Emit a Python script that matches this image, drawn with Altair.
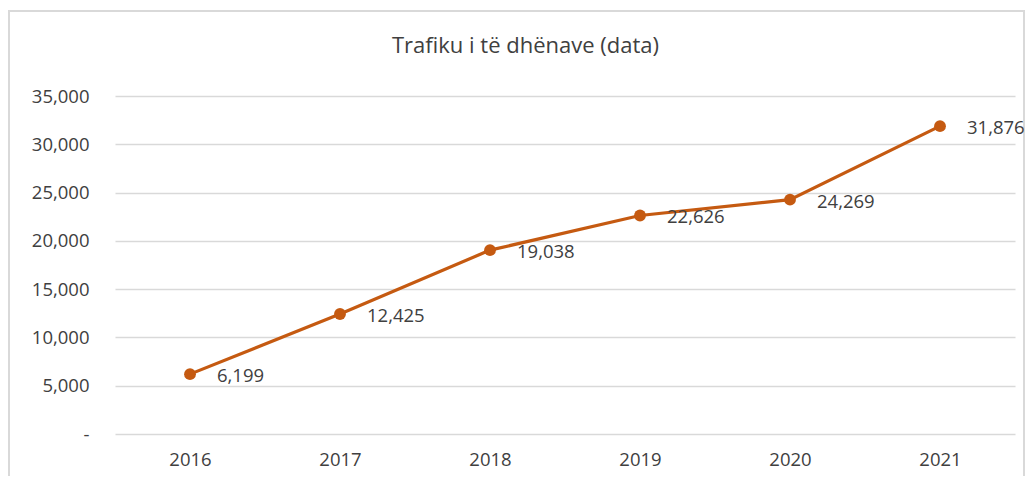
import altair as alt
import pandas as pd

years = ["2016", "2017", "2018", "2019", "2020", "2021"]
values = [6199, 12425, 19038, 22626, 24269, 31876]
y_ticks = [0, 5000, 10000, 15000, 20000, 25000, 30000, 35000]

df = pd.DataFrame({"year": years, "value": values})

color = "#C55A11"
font = "Open Sans"
fs = 18.5

base = alt.Chart(df).encode(
    x=alt.X("year:N", sort=years, title=None,
            scale=alt.Scale(paddingInner=0, paddingOuter=0),
            axis=alt.Axis(labelAngle=0, ticks=False, domain=False, grid=False,
                          labelFontSize=fs, labelColor="#404040", labelPadding=16,
                          labelFont=font)),
    y=alt.Y("value:Q", title=None,
            scale=alt.Scale(domain=[0, 35000], nice=False),
            axis=alt.Axis(values=y_ticks, ticks=False, domain=False,
                          gridColor="#d9d9d9", gridWidth=1.3,
                          labelFontSize=fs, labelColor="#404040", labelPadding=26,
                          labelFont=font,
                          labelExpr="datum.value == 0 ? '-' : format(datum.value, ',')")),
)

frame = alt.Chart(df).mark_rect(fill=None, stroke="#d9d9d9", strokeWidth=1.5).encode(
    x=alt.value(-106), x2=alt.value(909), y=alt.value(-85), y2=alt.value(400)
)

line = base.mark_line(color=color, strokeWidth=3.2)
points = base.mark_circle(color=color, size=140, opacity=1)
labels = base.mark_text(align="left", baseline="middle", dx=27, dy=2,
                        fontSize=fs, font=font, color="#404040").encode(
    text=alt.Text("value:Q", format=",")
)

chart = alt.layer(frame, line, points, labels).properties(
    width=900, height=338,
    title=alt.TitleParams("Trafiku i të dhënave (data)", fontSize=22, font=font,
                          fontWeight="normal", color="#404040", anchor="middle",
                          frame="bounds", dx=9, dy=70, offset=0, baseline="bottom"),
    autosize=alt.AutoSizeParams(type="none"),
    padding={"left": 107, "top": 88, "right": 10, "bottom": 42},
).configure_view(stroke=None)

chart.save("out.html", embed_options={"renderer": "svg", "actions": False})
